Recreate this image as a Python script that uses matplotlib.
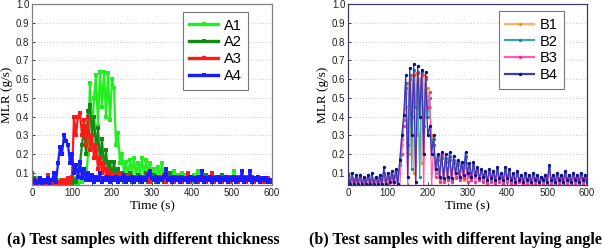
import numpy as np
import matplotlib
matplotlib.use("Agg")
import matplotlib.pyplot as plt
from matplotlib.ticker import MultipleLocator

# Time axis (s), sampled every 5 s
time_s = list(range(0, 605, 5))

# MLR values in units of 0.01 g/s
a1 = [5,4,7,4,5,4,6,4,5,4,
      6,4,5,4,6,4,5,4,6,4,
      5,4,7,4,8,5,10,6,20,58,
      30,50,62,35,64,45,64,40,63,38,
      60,55,25,31,15,20,10,16,8,17,
      10,18,8,15,9,18,8,17,9,15,
      8,12,7,13,8,15,7,12,8,10,
      7,11,6,9,7,10,6,9,6,8,
      5,9,6,11,6,8,5,8,6,7,
      5,8,6,7,5,8,6,7,5,8,
      6,11,5,7,6,8,5,7,6,8,
      5,7,6,7,5,6,5,7,5,6,
      5]
a2 = [5,7,4,6,4,5,4,6,4,5,
      4,6,4,5,4,6,4,5,4,6,
      4,6,5,8,15,25,35,20,43,46,
      30,40,22,34,15,28,12,22,10,16,
      8,16,7,12,6,10,5,9,6,10,
      5,8,6,9,5,8,6,10,5,8,
      6,9,5,8,6,8,5,9,6,10,
      5,7,6,8,5,8,6,7,5,8,
      6,7,5,8,6,7,5,9,6,7,
      5,8,6,7,5,9,6,7,5,8,
      6,7,5,8,6,7,5,8,6,7,
      5,7,6,8,5,7,6,7,5,6,
      5]
a3 = [10,4,6,4,5,4,6,4,9,4,
      5,4,6,4,5,4,6,4,7,4,
      8,40,30,40,42,30,38,25,40,22,
      30,18,25,12,18,10,15,8,12,7,
      10,6,9,5,10,6,8,5,9,6,
      7,5,8,6,7,5,8,6,10,5,
      8,6,7,5,8,6,9,5,7,6,
      8,5,7,6,8,5,7,6,10,5,
      8,6,7,5,8,6,7,5,8,6,
      10,5,7,6,8,5,7,6,8,5,
      7,6,8,5,7,6,8,5,7,6,
      8,5,7,6,7,5,6,5,7,5,
      5]
a4 = [5,6,4,5,7,4,6,5,7,4,
      6,10,5,15,24,20,30,27,25,15,
      20,10,14,8,16,7,12,6,10,6,
      9,5,8,6,10,5,7,6,8,5,
      7,6,8,5,7,6,9,5,7,6,
      8,5,7,6,8,5,7,6,9,11,
      7,6,8,5,7,6,8,12,6,7,
      5,8,6,7,5,8,6,7,5,8,
      6,7,5,8,6,11,5,7,6,8,
      5,7,6,8,5,7,6,8,5,7,
      6,8,5,7,6,11,5,7,6,11,
      5,7,6,8,5,7,6,7,5,6,
      5]

b1 = [10,3,7,3,8,3,6,3,7,3,
      8,3,7,3,6,3,8,3,7,3,
      9,3,8,3,10,3,15,25,40,45,
      58,20,62,10,63,30,60,15,62,40,
      55,45,30,25,15,18,6,19,6,17,
      7,18,6,16,8,15,7,14,6,18,
      8,14,7,15,8,12,6,11,7,10,
      5,11,6,10,5,11,6,9,5,12,
      6,11,5,9,5,10,6,8,5,9,
      5,8,4,9,5,8,4,7,5,8,
      4,12,5,8,4,9,5,8,4,9,
      5,8,4,9,5,8,4,9,5,8,
      4]
b2 = [8,3,6,3,7,3,8,3,6,3,
      7,3,6,3,8,3,7,3,10,3,
      8,3,9,3,11,3,14,28,38,58,
      25,62,12,65,45,63,8,64,35,60,
      40,50,25,28,10,19,7,18,6,18,
      7,19,6,17,8,16,7,15,8,19,
      9,13,6,14,8,12,7,11,6,10,
      5,10,6,11,5,12,6,9,5,11,
      6,10,5,9,5,10,6,8,5,9,
      5,8,4,9,5,8,4,8,5,8,
      4,13,5,8,4,9,5,8,4,10,
      5,8,4,9,5,8,4,9,5,8,
      4]
b3 = [6,3,7,3,6,3,7,3,6,3,
      7,3,6,3,7,3,6,3,9,3,
      7,3,8,3,9,3,3,20,35,55,
      3,60,40,62,3,64,50,62,3,61,
      45,53,3,25,8,17,5,20,5,16,
      6,17,5,15,7,14,6,13,7,15,
      5,13,6,12,5,11,6,10,5,9,
      4,10,5,9,4,10,5,8,4,10,
      5,9,4,8,4,9,5,7,4,8,
      4,7,3,8,4,7,3,7,4,7,
      3,11,4,7,3,8,4,7,3,8,
      4,7,3,8,4,7,3,8,4,7,
      3]
b4 = [9,4,10,4,9,4,9,4,8,4,
      9,4,10,4,8,4,9,4,13,4,
      10,5,11,5,12,4,17,30,41,62,
      8,66,30,68,5,67,40,65,20,64,
      30,35,20,30,12,20,8,21,7,20,
      8,21,7,19,10,17,8,16,9,21,
      10,15,8,16,9,13,7,12,8,11,
      6,12,7,11,6,13,7,10,6,13,
      7,12,6,10,5,11,6,9,5,10,
      6,9,5,10,6,9,5,8,6,9,
      5,14,6,9,5,10,6,9,5,11,
      6,9,5,10,6,9,5,10,6,9,
      5]

a_labels = ["A1", "A2", "A3", "A4"]
b_labels = ["B1", "B2", "B3", "B4"]
a_colors = ["#22ee22", "#138a13", "#ff1a1a", "#1a1aff"]
b_line_colors = ["#ffb060", "#3aa8a8", "#ff5ab0", "#3a3ab8"]
b_mark_colors = ["#ff8a00", "#178a8a", "#ff2a90", "#0c0c8c"]
x_ticks = [0, 100, 200, 300, 400, 500, 600]
y_ticks = [0.1, 0.2, 0.3, 0.4, 0.5, 0.6, 0.7, 0.8, 0.9, 1.0]

t = np.array(time_s)
W, H = 602, 248
fig = plt.figure(figsize=(W / 100, H / 100), dpi=100)

serif = ["Liberation Serif", "DejaVu Serif"]
sans = ["Liberation Sans", "DejaVu Sans"]

def setup(ax, spine_color):
    ax.set_xlim(0, 600)
    ax.set_ylim(0.035, 1.0)
    ax.set_xticks(x_ticks)
    ax.set_yticks(y_ticks)
    ax.xaxis.set_minor_locator(MultipleLocator(50))
    ax.set_xticklabels([str(v) for v in x_ticks], fontfamily=sans, fontsize=7)
    ax.set_yticklabels([f"{v:.1f}" for v in y_ticks], fontfamily=sans, fontsize=7)
    ax.tick_params(which="both", direction="in", length=2.5, width=0.6, pad=2,
                   colors="#222222")
    ax.tick_params(which="minor", length=1.5)
    for s in ax.spines.values():
        s.set_color(spine_color)
        s.set_linewidth(0.9)
    ax.grid(axis="y", linestyle=(0, (1, 2)), color="#c8c8c8", linewidth=0.7)
    ax.set_axisbelow(True)
    ax.set_xlabel("Time (s)", fontfamily=serif, fontsize=9.5, labelpad=2)
    ax.set_ylabel("MLR (g/s)", fontfamily=serif, fontsize=9.5, labelpad=2)

leg_kw = dict(loc="upper right", fancybox=False, framealpha=1, edgecolor="#777777",
              prop={"family": sans, "size": 10.5}, handlelength=2.0,
              handletextpad=0.35, borderpad=0.45, labelspacing=0.2, borderaxespad=0)

ax1 = fig.add_axes([32 / W, 1 - 185 / H, 240 / W, 181 / H])
setup(ax1, "#808080")
for vals, lab, c in zip([a1, a2, a3, a4], a_labels, a_colors):
    ax1.plot(t, np.array(vals) / 100.0, color=c, lw=1.6, marker="s", ms=3.4,
             markeredgewidth=0, label=lab)
leg1 = ax1.legend(bbox_to_anchor=(0.90, 0.956), **leg_kw)
leg1.get_frame().set_linewidth(0.8)
for h in leg1.get_lines():
    h.set_linewidth(2.4)

ax2 = fig.add_axes([348 / W, 1 - 185 / H, 239 / W, 181 / H])
setup(ax2, "#3a3a6a")
for vals, lab, lc, mc in zip([b1, b2, b3, b4], b_labels, b_line_colors, b_mark_colors):
    ax2.plot(t, np.array(vals) / 100.0, color=lc, lw=0.9, marker="o", ms=2.4,
             markerfacecolor=mc, markeredgewidth=0, label=lab)
leg2 = ax2.legend(bbox_to_anchor=(0.903, 0.961), **leg_kw)
leg2.get_frame().set_linewidth(0.8)
for h in leg2.get_lines():
    h.set_linewidth(1.6)

fig.text(143 / W, 1 - 240 / H, "(a) Test samples with different thickness",
         ha="center", va="center", fontfamily=serif, fontweight="bold", fontsize=11.5)
fig.text(455 / W, 1 - 240 / H, "(b) Test samples with different laying angle",
         ha="center", va="center", fontfamily=serif, fontweight="bold", fontsize=11.5)

fig.savefig("out.png", dpi=100)
